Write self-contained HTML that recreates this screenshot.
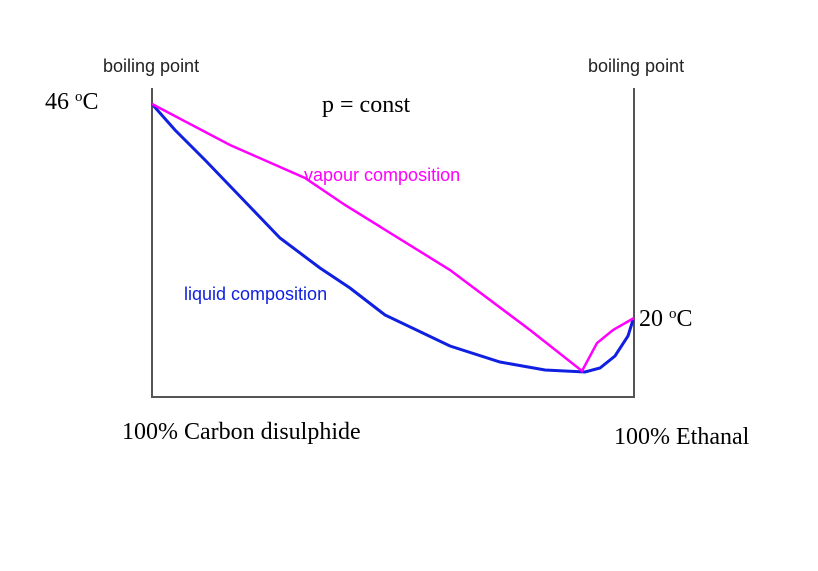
<!DOCTYPE html>
<html><head><style>body{margin:0;background:#fff}</style></head><body>
<svg width="818" height="566" xmlns="http://www.w3.org/2000/svg">
<rect width="818" height="566" fill="#fff"/>
<polyline points="152,88 152,397 634,397 634,88" fill="none" stroke="#555" stroke-width="2"/>
<polyline points="152,104 175,130 205,160 255,212 280,238 320,268 350,288 385,315 450,346 500,362 545,370 585,372 600,368 615,356 628,336 633,320" fill="none" stroke="#1020e0" stroke-width="3"/>
<polyline points="152,104 230,145 305,178 345,205 450,270 530,330 582,371 597,343 613,330 634,318" fill="none" stroke="#ff00ff" stroke-width="2.5"/>
<g font-family="Liberation Sans, sans-serif" font-size="18">
<text x="103" y="72" fill="#222">boiling point</text>
<text x="588" y="72" fill="#222">boiling point</text>
<text x="304" y="181" fill="#ff00ff">vapour composition</text>
<text x="184" y="300" fill="#1020e0">liquid composition</text>
</g>
<g font-family="Liberation Serif, serif" font-size="24" fill="#000">
<text x="45" y="109">46 <tspan font-size="15" dy="-8">o</tspan><tspan dy="8">C</tspan></text>
<text x="322" y="112">p = const</text>
<text x="639" y="326">20 <tspan font-size="15" dy="-8">o</tspan><tspan dy="8">C</tspan></text>
<text x="122" y="439">100% Carbon disulphide</text>
<text x="614" y="444">100% Ethanal</text>
</g>
</svg>
</body></html>
